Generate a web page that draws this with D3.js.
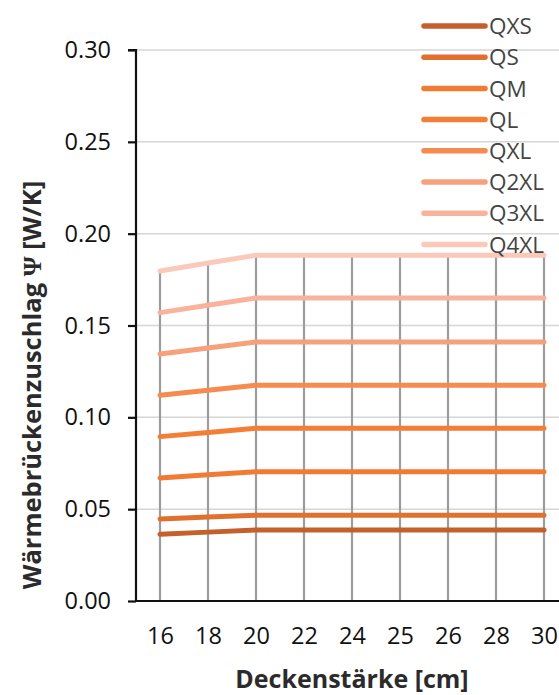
<!DOCTYPE html>
<html>
<head>
<meta charset="utf-8">
<script src="https://cdn.jsdelivr.net/npm/d3@7"></script>
<style>
  html, body { margin: 0; padding: 0; background: #fff; }
  svg { display: block; font-family: "Open Sans", "Noto Sans", sans-serif; }
</style>
</head>
<body>
<svg id="chart" width="559" height="695"></svg>
<script>
// Deckenstärke categories (cm)
const thickness = ["16", "18", "20", "22", "24", "25", "26", "28", "30"];
const seriesNames = ["QXS", "QS", "QM", "QL", "QXL", "Q2XL", "Q3XL", "Q4XL"];
const seriesColors = ["#c4602c", "#e0702f", "#f27b33", "#f47e36", "#f58b4e", "#f7a07c", "#f9b39b", "#fbc9b9"];

// Wärmebrückenzuschlag Ψ [W/K] per series
const QXS  = [0.0363, 0.0375, 0.0387, 0.0387, 0.0387, 0.0387, 0.0387, 0.0387, 0.0387];
const QS   = [0.0447, 0.0457, 0.0467, 0.0467, 0.0467, 0.0467, 0.0467, 0.0467, 0.0467];
const QM   = [0.0670, 0.0688, 0.0704, 0.0704, 0.0704, 0.0704, 0.0704, 0.0704, 0.0704];
const QL   = [0.0895, 0.0918, 0.0940, 0.0940, 0.0940, 0.0940, 0.0940, 0.0940, 0.0940];
const QXL  = [0.1120, 0.1148, 0.1175, 0.1175, 0.1175, 0.1175, 0.1175, 0.1175, 0.1175];
const Q2XL = [0.1345, 0.1378, 0.1410, 0.1410, 0.1410, 0.1410, 0.1410, 0.1410, 0.1410];
const Q3XL = [0.1570, 0.1610, 0.1650, 0.1650, 0.1650, 0.1650, 0.1650, 0.1650, 0.1650];
const Q4XL = [0.1797, 0.1840, 0.1882, 0.1882, 0.1882, 0.1882, 0.1882, 0.1882, 0.1882];
const seriesValues = [QXS, QS, QM, QL, QXL, Q2XL, Q3XL, Q4XL];

const yTicks = [0, 0.05, 0.10, 0.15, 0.20, 0.25, 0.30];

const svg = d3.select("#chart");
const plot = { left: 136, right: 568, top: 50, bottom: 601 };

const x = d3.scalePoint().domain(thickness).range([plot.left, plot.right]).padding(0.5);
const y = d3.scaleLinear().domain([0, 0.30]).range([plot.bottom, plot.top]);

// horizontal gridlines
svg.append("g").selectAll("line").data(yTicks.slice(1)).join("line")
  .attr("x1", plot.left).attr("x2", 559)
  .attr("y1", d => y(d)).attr("y2", d => y(d))
  .attr("stroke", "#d6d6d6").attr("stroke-width", 1.5);

// drop lines from the highest series down to the category axis
const topSeries = seriesValues[seriesValues.length - 1];
svg.append("g").selectAll("line").data(thickness).join("line")
  .attr("x1", d => x(d)).attr("x2", d => x(d))
  .attr("y1", (d, i) => y(topSeries[i])).attr("y2", plot.bottom)
  .attr("stroke", "#9d9d9d").attr("stroke-width", 2.2);

// series lines
const line = d3.line().x((d, i) => x(thickness[i])).y(d => y(d));
svg.append("g").selectAll("path").data(seriesValues).join("path")
  .attr("d", d => line(d))
  .attr("fill", "none")
  .attr("stroke", (d, i) => seriesColors[i])
  .attr("stroke-width", 5)
  .attr("stroke-linecap", "round")
  .attr("stroke-linejoin", "round");

// y axis
const yAxis = d3.axisLeft(y).tickValues(yTicks).tickFormat(d3.format(".2f")).tickSize(8).tickPadding(17);
const gy = svg.append("g").attr("transform", `translate(${plot.left},0)`).call(yAxis);
gy.select(".domain").attr("stroke", "#111").attr("stroke-width", 2.2).attr("d", `M-8,${plot.top}H0V${plot.bottom}`);
gy.selectAll(".tick line").attr("stroke", "#111").attr("stroke-width", 2.2);
gy.selectAll(".tick text").attr("font-size", 23.5).attr("fill", "#111")
  .attr("font-family", "'Open Sans', sans-serif");

// x axis
const xAxis = d3.axisBottom(x).tickSize(0).tickPadding(26);
const gx = svg.append("g").attr("transform", `translate(0,${plot.bottom})`).call(xAxis);
gx.select(".domain").attr("stroke", "#111").attr("stroke-width", 2.2).attr("d", `M${plot.left},0H559`);
gx.selectAll(".tick text").attr("font-size", 23.5).attr("fill", "#111")
  .attr("font-family", "'Open Sans', sans-serif");

// axis titles
svg.append("text")
  .attr("x", 352).attr("y", 688)
  .attr("text-anchor", "middle")
  .attr("font-size", 25).attr("font-weight", "bold").attr("fill", "#2b2b2b")
  .text("Deckenstärke [cm]");

const yt = svg.append("text")
  .attr("transform", "translate(41,385) rotate(-90)")
  .attr("text-anchor", "middle")
  .attr("font-size", 25.5).attr("font-weight", "bold").attr("fill", "#2b2b2b");
yt.append("tspan").text("Wärmebrückenzuschlag ");
yt.append("tspan").attr("font-family", "'Liberation Serif', serif").text("Ψ");
yt.append("tspan").text(" [W/K]");

// legend
const legend = svg.append("g").selectAll("g").data(seriesNames).join("g")
  .attr("transform", (d, i) => `translate(0,${26 + i * 31.2})`);
legend.append("line")
  .attr("x1", 424).attr("x2", 485).attr("y1", 0).attr("y2", 0)
  .attr("stroke", (d, i) => seriesColors[i]).attr("stroke-width", 5.5)
  .attr("stroke-linecap", "round");
legend.append("text")
  .attr("x", 489).attr("y", 0).attr("dy", "0.36em")
  .attr("font-size", 22.5).attr("fill", "#444")
  .text(d => d);
</script>
</body>
</html>
